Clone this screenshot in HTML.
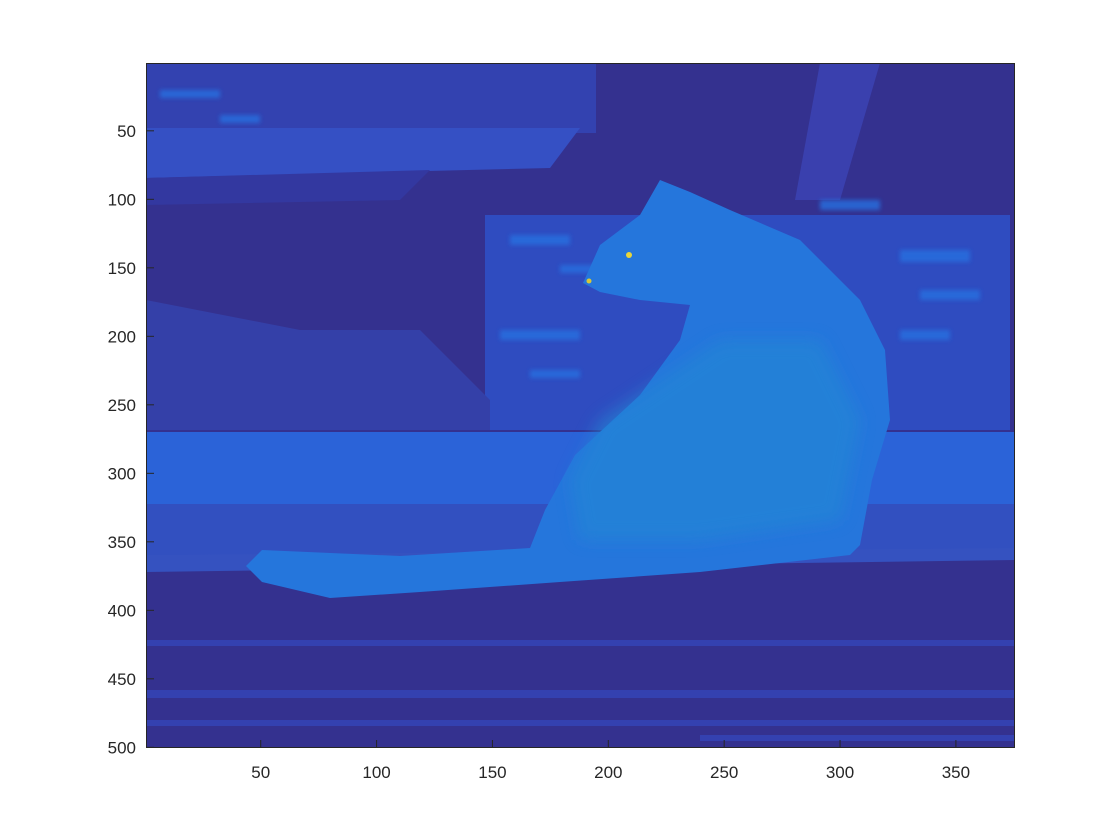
<!DOCTYPE html>
<html><head><meta charset="utf-8"><style>
body{margin:0;background:#fff;}
svg{display:block;font-family:"Liberation Sans",sans-serif;}
</style></head><body>
<svg width="1120" height="840">
<defs>
<clipPath id="pc"><rect x="146" y="63" width="869" height="685"/></clipPath>
<filter id="bl"><feGaussianBlur stdDeviation="2"/></filter>
<filter id="bl2"><feGaussianBlur stdDeviation="8"/></filter>
</defs>
<g clip-path="url(#pc)">
<rect x="146" y="63" width="869" height="685" fill="#34318f"/>
<rect x="146" y="63" width="450" height="70" fill="#3342b0"/>
<polygon points="146,128 580,128 550,168 146,178" fill="#3550c4"/>
<polygon points="146,178 430,170 400,200 146,205" fill="#3338a0"/>
<polygon points="820,63 880,63 840,200 795,200" fill="#3a40ae"/>
<rect x="485" y="215" width="525" height="215" fill="#2f4cc0"/>
<g fill="#2870e0" opacity="0.8" filter="url(#bl)">
<rect x="510" y="235" width="60" height="10"/><rect x="560" y="265" width="40" height="8"/>
<rect x="900" y="250" width="70" height="12"/><rect x="920" y="290" width="60" height="10"/>
<rect x="820" y="200" width="60" height="10"/><rect x="900" y="330" width="50" height="10"/>
<rect x="500" y="330" width="80" height="10"/><rect x="530" y="370" width="50" height="8"/>
<rect x="220" y="115" width="40" height="8"/><rect x="160" y="90" width="60" height="8"/>
</g>
<polygon points="146,300 300,330 420,330 490,400 490,430 146,430" fill="#3440a8"/>
<rect x="146" y="432" width="869" height="72" fill="#2b63d8"/>
<rect x="146" y="504" width="869" height="52" fill="#3250c0"/>
<polygon points="146,555 1015,548 1015,560 146,572" fill="#3552c0"/>
<g fill="#3543b4" opacity="0.9">
<rect x="146" y="640" width="869" height="6"/><rect x="146" y="690" width="869" height="8"/>
<rect x="146" y="720" width="869" height="6"/><rect x="700" y="735" width="315" height="6"/>
</g>
<path fill="#2576dc" d="M583,283 L600,245 L640,215 L660,180 L690,192 L730,210 L800,240 L860,300 L885,350 L890,420 L872,480 L860,545 L850,555 L700,572 L560,582 L420,592 L330,598 L262,582 L246,566 L262,550 L400,556 L530,548 L545,510 L575,455 L640,395 L680,340 L690,305 L640,300 L600,292 Z"/>
<path fill="#2288d4" opacity="0.6" filter="url(#bl2)" d="M600,420 L720,340 L820,340 L860,420 L840,520 L700,540 L580,540 L570,480 Z"/>
<circle cx="629" cy="255" r="3" fill="#e8d53a"/>
<circle cx="589" cy="281" r="2.5" fill="#d8c838"/>
</g>
<rect x="146.5" y="63.5" width="868" height="684" fill="none" stroke="#262626" stroke-width="1"/>
<g id="ticks" font-size="17" fill="#262626"></g>
<script>
const xTicks=[50,100,150,200,250,300,350];
const yTicks=[50,100,150,200,250,300,350,400,450,500];
const xs=v=>146+(v-0.5)*(869/375);
const ys=v=>63+(v-0.5)*(685/500);
const g=document.getElementById('ticks');
const ns='http://www.w3.org/2000/svg';
xTicks.forEach(v=>{
 const t=document.createElementNS(ns,'text');
 t.setAttribute('x',xs(v));t.setAttribute('y',778);t.setAttribute('text-anchor','middle');
 t.textContent=v;
 
 
 g.appendChild(t);
 const l=document.createElementNS(ns,'line');
 l.setAttribute('x1',xs(v));l.setAttribute('x2',xs(v));l.setAttribute('y1',748);l.setAttribute('y2',740);l.setAttribute('stroke','#262626');
 
 
 g.appendChild(l);
});
yTicks.forEach(v=>{
 const t=document.createElementNS(ns,'text');
 t.setAttribute('x',136);t.setAttribute('y',ys(v)+6);t.setAttribute('text-anchor','end');
 t.textContent=v;
 
 
 g.appendChild(t);
 const l=document.createElementNS(ns,'line');
 l.setAttribute('x1',146);l.setAttribute('x2',154);l.setAttribute('y1',ys(v));l.setAttribute('y2',ys(v));l.setAttribute('stroke','#262626');
 
 
 g.appendChild(l);
});
</script>
</svg>
</body></html>
